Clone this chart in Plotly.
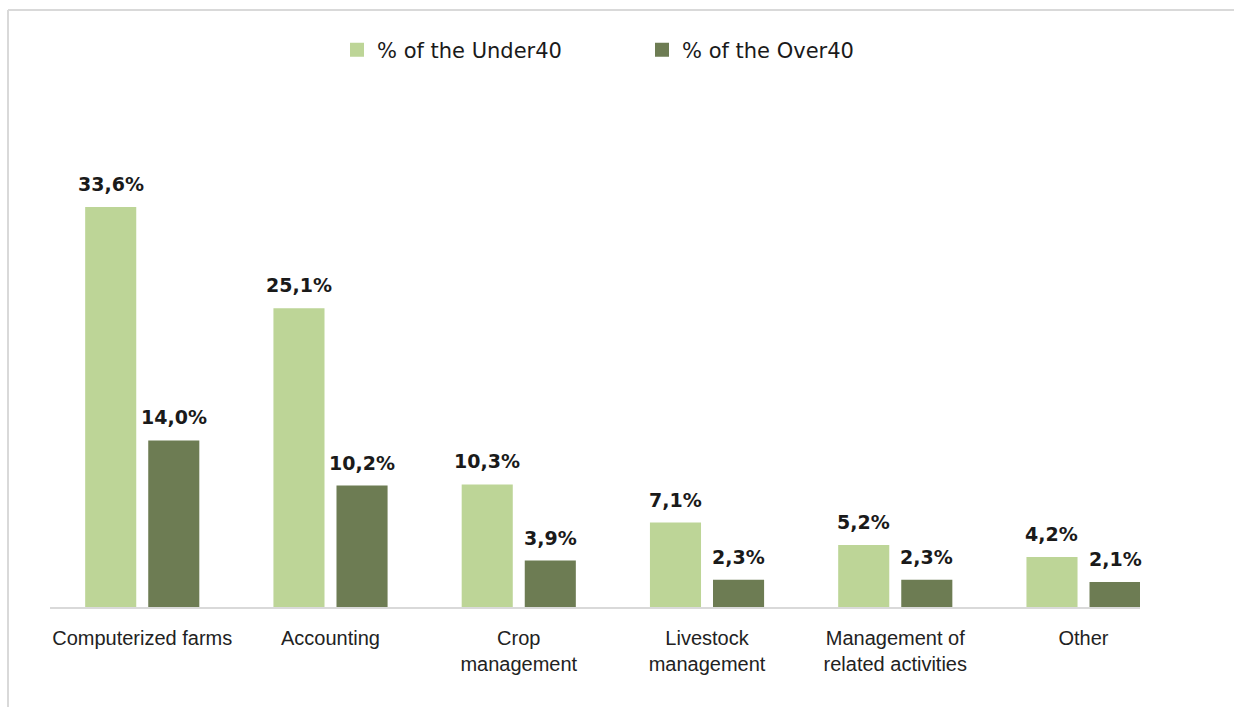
import plotly.graph_objects as go

# Data
categories = [
    "Computerized farms",
    "Accounting",
    "Crop<br>management",
    "Livestock<br>management",
    "Management of<br>related activities",
    "Other",
]
under40 = [33.6, 25.1, 10.3, 7.1, 5.2, 4.2]
over40 = [14.0, 10.2, 3.9, 2.3, 2.3, 2.1]
series_names = ["% of the Under40", "% of the Over40"]

# Styling
LIGHT = "#bdd597"
DARK = "#6d7c53"
GRID = "#d9d9d9"
W, H = 1234, 707
ML, MR, MT, MB = 50, 94, 100, 100
BARGAP, GROUPGAP = 0.33, 0.19
YMAX = 42.6

x_idx = list(range(len(categories)))


def fmt(v):
    return f"{v:.1f}".replace(".", ",") + "%"


fig = go.Figure()
for vals, name, color in ((under40, series_names[0], LIGHT),
                          (over40, series_names[1], DARK)):
    fig.add_trace(go.Bar(x=x_idx, y=vals, name=name, showlegend=False,
                         legendgroup=name,
                         marker=dict(color=color, line=dict(width=0))))
    # legend entry with a larger square swatch
    fig.add_trace(go.Scatter(x=[None], y=[None], mode="markers", name=name,
                             legendgroup=name,
                             marker=dict(symbol="square", size=14,
                                         color=color)))

# value labels above each bar
slot = (1 - BARGAP) / 2
annotations = []
for vals, sign in ((under40, -1), (over40, 1)):
    for i, v in zip(x_idx, vals):
        annotations.append(dict(
            x=i + sign * slot / 2, y=v, xref="x", yref="y",
            text=f"<b>{fmt(v)}</b>", showarrow=False,
            yanchor="bottom", xanchor="center", yshift=10,
            font=dict(family="DejaVu Sans", size=19, color="#1a1a1a"),
        ))

# frame lines along the top and left edge of the page
pw, ph = W - ML - MR, H - MT - MB


def px_x(p):
    return (p - ML) / pw


def px_y(p):
    return (H - MB - p) / ph


shapes = [
    dict(type="line", xref="paper", yref="paper",
         x0=px_x(8), x1=px_x(W), y0=px_y(10), y1=px_y(10),
         line=dict(color=GRID, width=2)),
    dict(type="line", xref="paper", yref="paper",
         x0=px_x(8), x1=px_x(8), y0=px_y(10), y1=px_y(H),
         line=dict(color=GRID, width=2)),
]

fig.update_layout(
    width=W, height=H,
    margin=dict(l=ML, r=MR, t=MT, b=MB),
    paper_bgcolor="white", plot_bgcolor="white",
    barmode="group", bargap=BARGAP, bargroupgap=GROUPGAP,
    showlegend=True,
    legend=dict(orientation="h", x=px_x(337), y=px_y(50),
                xanchor="left", yanchor="middle",
                entrywidth=260, entrywidthmode="pixels",
                font=dict(family="DejaVu Sans", size=21, color="#1a1a1a"),
                bgcolor="rgba(0,0,0,0)"),
    annotations=annotations,
    shapes=shapes,
    xaxis=dict(range=[-0.49, 5.30], tickmode="array", tickvals=x_idx,
               ticktext=categories, showline=True, linecolor=GRID,
               linewidth=2, ticks="", showgrid=False, zeroline=False,
               ticklabelstandoff=12,
               tickfont=dict(family="Liberation Sans", size=20,
                             color="#222222")),
    yaxis=dict(range=[0, YMAX], visible=False, showgrid=False,
               zeroline=False),
)

fig.write_html("out.html")
